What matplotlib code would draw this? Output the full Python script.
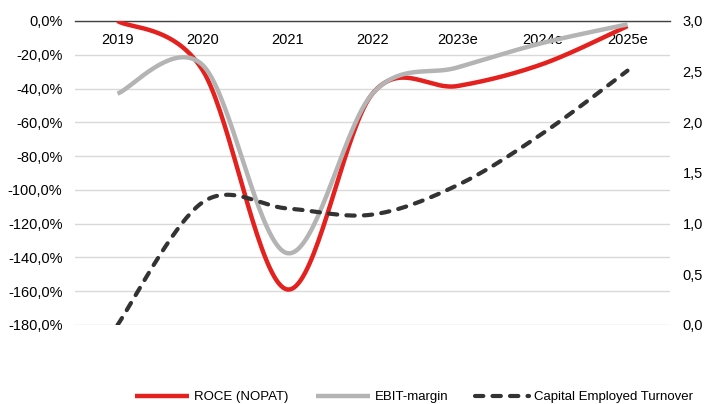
import numpy as np
import matplotlib
matplotlib.use("Agg")
import matplotlib.pyplot as plt
from matplotlib.ticker import FuncFormatter

plt.rcParams['font.family'] = ['Liberation Sans', 'DejaVu Sans']

years = ['2019', '2020', '2021', '2022', '2023e', '2024e', '2025e']
roce = [0.0, -29.0, -159.0, -43.0, -38.5, -25.5, -3.0]        # %
ebit = [-43.0, -26.0, -137.5, -43.0, -27.5, -13.0, -2.0]     # %
cet = [0.0, 1.21, 1.15, 1.09, 1.38, 1.89, 2.51]              # right axis


def smooth(y, steps=40):
    # excel-like smoothed line: catmull-rom turned into bezier pieces
    x = np.arange(len(y), dtype=float)
    y = np.asarray(y, dtype=float)
    n = len(y)
    xs, ys = [], []
    t = np.linspace(0, 1, steps)
    for i in range(n - 1):
        a = max(i - 1, 0)
        b = min(i + 2, n - 1)
        p0 = np.array([x[i], y[i]])
        p3 = np.array([x[i + 1], y[i + 1]])
        c1 = p0 + (p3 - np.array([x[a], y[a]])) / 6.0
        c2 = p3 - (np.array([x[b], y[b]]) - p0) / 6.0
        pts = ((1 - t) ** 3)[:, None] * p0 + (3 * (1 - t) ** 2 * t)[:, None] * c1 \
            + (3 * (1 - t) * t ** 2)[:, None] * c2 + (t ** 3)[:, None] * p3
        xs.extend(pts[:, 0])
        ys.extend(pts[:, 1])
    return np.array(xs), np.array(ys)


fig = plt.figure(figsize=(7.05, 4.04), dpi=100)
ax = fig.add_axes([75 / 705, 1 - 325 / 404, 595 / 705, 304 / 404])

fs = 10.5
red = "#E3211E"
grey = "#B4B4B4"
dark = "#333333"

x1, y1 = smooth(roce)
ax.plot(x1, y1, color=red, lw=3.2, solid_capstyle='butt', label="ROCE (NOPAT)", zorder=3)
x2, y2 = smooth(ebit)
ax.plot(x2, y2, color=grey, lw=3.2, solid_capstyle='butt', label="EBIT-margin", zorder=4)

ax.set_xlim(-0.5, 6.5)
ax.set_ylim(-180, 0)
ax.set_yticks(np.arange(-180, 1, 20))
ax.yaxis.set_major_formatter(FuncFormatter(lambda v, p: ("%.1f%%" % v).replace(".", ",")))
ax.grid(axis='y', color="#D9D9D9", lw=1)
ax.set_axisbelow(True)
for s in ['left', 'right', 'bottom']:
    ax.spines[s].set_visible(False)
ax.spines['top'].set_color("#404040")
ax.spines['top'].set_linewidth(1)

ax.set_xticks(range(len(years)))
ax.set_xticklabels(years)
ax.tick_params(axis='x', top=True, bottom=False, labeltop=True, labelbottom=False,
               length=0, pad=-8.5, labelsize=fs)
for lb in ax.get_xticklabels():
    lb.set_va('top')
ax.tick_params(axis='y', length=0, pad=9, labelsize=fs)

ax2 = ax.twinx()
x3, y3 = smooth(cet)
ax2.plot(x3, y3, color=dark, lw=3.0, dashes=(2.0, 2.2), dash_capstyle='round',
         label="Capital Employed Turnover")
ax2.set_ylim(0, 3)
ax2.set_yticks(np.arange(0, 3.01, 0.5))
ax2.yaxis.set_major_formatter(FuncFormatter(lambda v, p: ("%.1f" % v).replace(".", ",")))
ax2.tick_params(axis='y', length=0, pad=9, labelsize=fs)
for s in ax2.spines.values():
    s.set_visible(False)

h1, l1 = ax.get_legend_handles_labels()
h2, l2 = ax2.get_legend_handles_labels()
fig.legend(h1 + h2, l1 + l2, loc='center left', bbox_to_anchor=(135 / 705, 1 - 397 / 404),
           ncol=3, frameon=False, fontsize=9.5, handlelength=4.1, handletextpad=0.38,
           columnspacing=2.05, borderpad=0, borderaxespad=0)

fig.savefig("out.png", dpi=100)
